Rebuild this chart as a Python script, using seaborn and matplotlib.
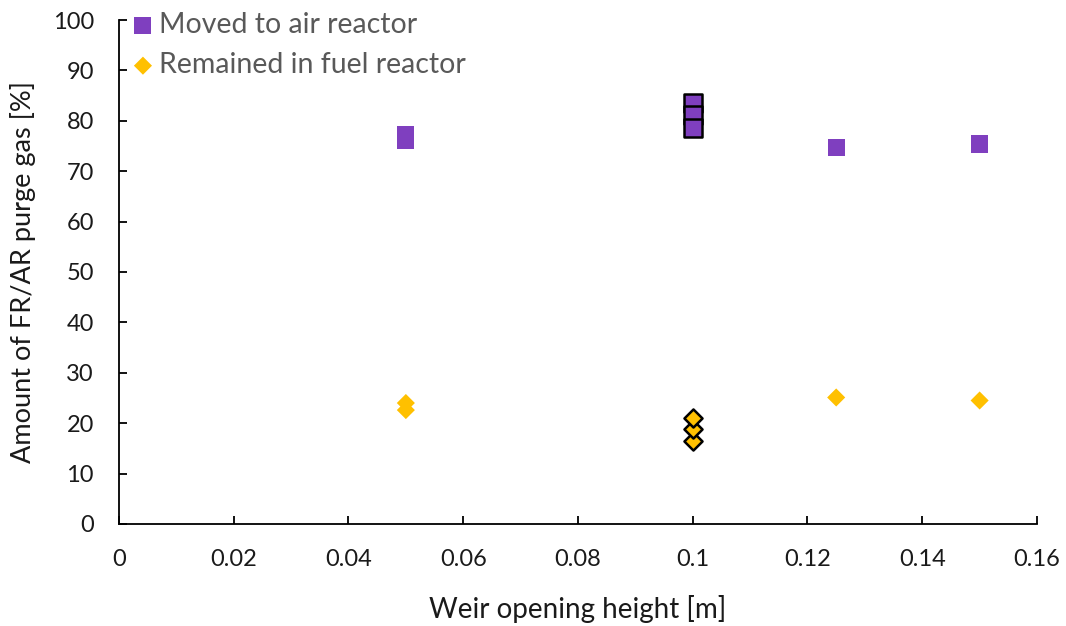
import matplotlib
matplotlib.use("Agg")
import matplotlib.pyplot as plt
import seaborn as sns
import pandas as pd

# Data
weir_height = [0.05, 0.05, 0.10, 0.10, 0.10, 0.125, 0.15]
moved_to_ar = [77.3, 76.0, 83.6, 81.2, 78.6, 74.8, 75.4]
remained_fr = [22.6, 24.0, 16.4, 18.8, 21.0, 25.1, 24.5]
highlighted = [False, False, True, True, True, False, False]

x_ticks = [0, 0.02, 0.04, 0.06, 0.08, 0.10, 0.12, 0.14, 0.16]
x_tick_labels = ["0", "0.02", "0.04", "0.06", "0.08", "0.1", "0.12", "0.14", "0.16"]
y_ticks = list(range(0, 101, 10))

purple = "#7F3FBF"
gold = "#FFC000"
text_col = "#595959"
dark_text = "#1a1a1a"

df = pd.DataFrame({"x": weir_height, "ar": moved_to_ar, "fr": remained_fr, "hl": highlighted})

sns.set_style("white")
plt.rcParams['font.family'] = ['Lato', 'DejaVu Sans']

fig = plt.figure(figsize=(10.66, 6.26), dpi=100)
ax = fig.add_axes([0.1116, 0.163, 0.8612, 0.805])

norm = df[~df.hl]
hl = df[df.hl]

sns.scatterplot(data=norm, x="x", y="ar", marker="s", s=150, color=purple,
                edgecolor="none", ax=ax, label="Moved to air reactor", zorder=3)
sns.scatterplot(data=norm, x="x", y="fr", marker="D", s=85, color=gold,
                edgecolor="none", ax=ax, label="Remained in fuel reactor", zorder=3)
sns.scatterplot(data=hl, x="x", y="ar", marker="s", s=150, color=purple,
                edgecolor="black", linewidth=1.8, ax=ax, zorder=4, legend=False)
sns.scatterplot(data=hl, x="x", y="fr", marker="D", s=85, color=gold,
                edgecolor="black", linewidth=1.8, ax=ax, zorder=4, legend=False)

ax.set_xlim(0, 0.16)
ax.set_ylim(0, 100)
ax.set_xticks(x_ticks)
ax.set_xticklabels(x_tick_labels)
ax.set_yticks(y_ticks)

for s in ["top", "right"]:
    ax.spines[s].set_visible(False)
for s in ["left", "bottom"]:
    ax.spines[s].set_color("black")
    ax.spines[s].set_linewidth(1.3)

ax.tick_params(axis="both", direction="in", length=6, width=1.3, color="black",
               labelsize=17, labelcolor=dark_text, left=True, bottom=True)
ax.tick_params(axis="x", pad=18)
ax.tick_params(axis="y", pad=18)
ax.set_xlabel("Weir opening height [m]", fontsize=20, color=dark_text, labelpad=18)
ax.set_ylabel("Amount of FR/AR purge gas [%]", fontsize=19.5, color=dark_text, labelpad=12)

leg = ax.legend(loc="upper left", bbox_to_anchor=(-0.008, 1.05), frameon=False,
                fontsize=20.5, handletextpad=0.05, labelspacing=0.5, borderaxespad=0.2,
                handlelength=1.0, labelcolor=text_col)

fig.savefig("out.png", dpi=100)
